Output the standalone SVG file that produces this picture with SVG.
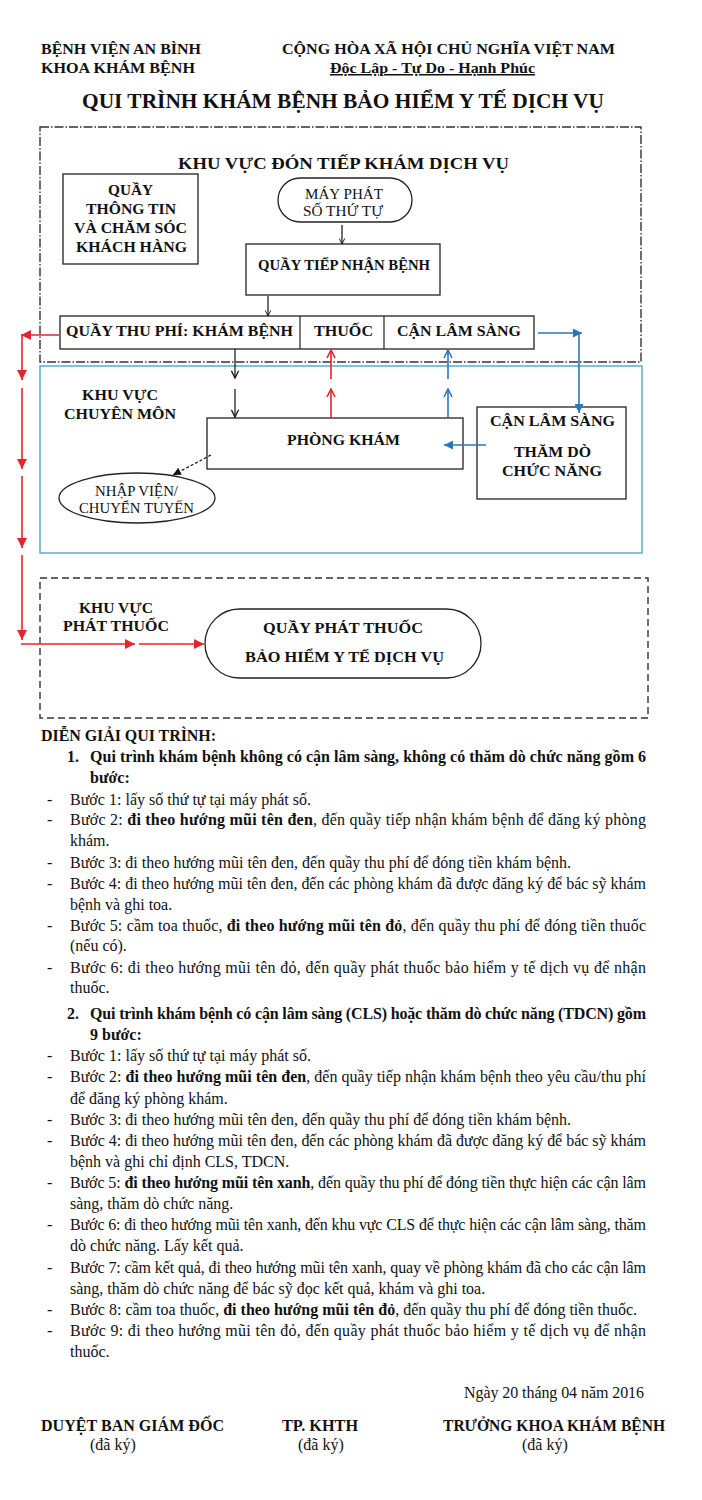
<svg xmlns="http://www.w3.org/2000/svg" width="702" height="1500" viewBox="0 0 702 1500">
<style>
text{font-family:"Liberation Serif","Times New Roman",serif;fill:#111;}
.h{font-size:15px;font-weight:bold;}
.t{font-size:21px;font-weight:bold;}
.nb{font-size:14px;font-weight:bold;}
.nr{font-size:14px;}
.b{font-size:16px;}
.bb{font-size:16px;font-weight:bold;}
.bx{fill:#fff;stroke:#222;stroke-width:1.3;}
.k{stroke:#111;stroke-width:1.2;fill:none;}
.r{stroke:#e3262d;stroke-width:1.6;fill:none;}
.u{stroke:#2e75b6;stroke-width:1.6;fill:none;}
</style>
<defs>
<marker id="oK" viewBox="0 0 10 10" refX="9" refY="5" markerWidth="9" markerHeight="9" markerUnits="userSpaceOnUse" orient="auto"><path d="M1,1 L9,5 L1,9" fill="none" stroke="#111" stroke-width="1.4"/></marker>
<marker id="oKs" viewBox="0 0 10 10" refX="9" refY="5" markerWidth="7" markerHeight="7" markerUnits="userSpaceOnUse" orient="auto"><path d="M1,1 L9,5 L1,9" fill="none" stroke="#111" stroke-width="1.3"/></marker>
<marker id="fK" viewBox="0 0 10 10" refX="10" refY="5" markerWidth="8" markerHeight="8" markerUnits="userSpaceOnUse" orient="auto"><path d="M0,0 L10,5 L0,10 z" fill="#111"/></marker>
<marker id="fR" viewBox="0 0 10 10" refX="10" refY="5" markerWidth="10" markerHeight="10" markerUnits="userSpaceOnUse" orient="auto"><path d="M0,0 L10,5 L0,10 z" fill="#e3262d"/></marker>
<marker id="oR" viewBox="0 0 10 10" refX="9" refY="5" markerWidth="10" markerHeight="10" markerUnits="userSpaceOnUse" orient="auto"><path d="M1,1 L9,5 L1,9" fill="none" stroke="#e3262d" stroke-width="1.6"/></marker>
<marker id="fU" viewBox="0 0 10 10" refX="10" refY="5" markerWidth="9" markerHeight="9" markerUnits="userSpaceOnUse" orient="auto"><path d="M0,0 L10,5 L0,10 z" fill="#2e75b6"/></marker>
<marker id="oU" viewBox="0 0 10 10" refX="9" refY="5" markerWidth="10" markerHeight="10" markerUnits="userSpaceOnUse" orient="auto"><path d="M1,1 L9,5 L1,9" fill="none" stroke="#2e75b6" stroke-width="1.6"/></marker>
</defs>
<rect width="702" height="1500" fill="#fff"/>

<g id="header">
<text class="h" x="41" y="54" textLength="160" lengthAdjust="spacingAndGlyphs">BỆNH VIỆN AN BÌNH</text>
<text class="h" x="41" y="73" textLength="154" lengthAdjust="spacingAndGlyphs">KHOA KHÁM BỆNH</text>
<text class="h" x="282" y="54" textLength="333" lengthAdjust="spacingAndGlyphs">CỘNG HÒA XÃ HỘI CHỦ NGHĨA VIỆT NAM</text>
<text class="h" x="330" y="73" textLength="205" lengthAdjust="spacingAndGlyphs" text-decoration="underline">Độc Lập - Tự Do - Hạnh Phúc</text>
<text class="t" x="82" y="108" textLength="522" lengthAdjust="spacingAndGlyphs">QUI TRÌNH KHÁM BỆNH BẢO HIỂM Y TẾ DỊCH VỤ</text>
</g>

<g id="zone-reception">
<rect x="40" y="127" width="601" height="235" fill="none" stroke="#333" stroke-width="1.4" stroke-dasharray="9 2 1.5 2"/>
<text x="178" y="169" style="font-size:17px;font-weight:bold" textLength="331" lengthAdjust="spacingAndGlyphs">KHU VỰC ĐÓN TIẾP KHÁM DỊCH VỤ</text>
</g>
<g id="zone-specialty">
<rect x="40" y="366" width="602" height="187" fill="none" stroke="#5aafc8" stroke-width="1.5"/>
<text class="nb" x="82" y="400" textLength="76" lengthAdjust="spacingAndGlyphs">KHU VỰC</text>
<text class="nb" x="64" y="419" textLength="112" lengthAdjust="spacingAndGlyphs">CHUYÊN MÔN</text>
</g>
<g id="zone-pharmacy">
<rect x="40" y="578" width="608" height="140" fill="none" stroke="#333" stroke-width="1.4" stroke-dasharray="7 4"/>
<text class="nb" x="79" y="613" textLength="74" lengthAdjust="spacingAndGlyphs">KHU VỰC</text>
<text class="nb" x="63" y="631" textLength="106" lengthAdjust="spacingAndGlyphs">PHÁT THUỐC</text>
</g>

<g id="node-info">
<rect class="bx" x="63" y="174" width="135" height="90"/>
<text class="nb" x="108" y="195" textLength="45" lengthAdjust="spacingAndGlyphs">QUẦY</text>
<text class="nb" x="86" y="214" textLength="90" lengthAdjust="spacingAndGlyphs">THÔNG TIN</text>
<text class="nb" x="74" y="233" textLength="113" lengthAdjust="spacingAndGlyphs">VÀ CHĂM SÓC</text>
<text class="nb" x="76" y="252" textLength="111" lengthAdjust="spacingAndGlyphs">KHÁCH HÀNG</text>
</g>
<g id="node-ticket">
<rect class="bx" x="278" y="178" width="134" height="44" rx="22"/>
<text class="nr" x="305" y="199" textLength="78" lengthAdjust="spacingAndGlyphs">MÁY PHÁT</text>
<text class="nr" x="303" y="216" textLength="80" lengthAdjust="spacingAndGlyphs">SỐ THỨ TỰ</text>
</g>
<g id="node-reception">
<rect class="bx" x="246" y="244" width="194" height="51"/>
<text class="nb" x="258" y="270" textLength="172" lengthAdjust="spacingAndGlyphs">QUẦY TIẾP NHẬN BỆNH</text>
</g>
<g id="node-cashier">
<rect class="bx" x="60" y="316" width="474" height="33"/>
<line x1="300" y1="316" x2="300" y2="349" stroke="#222" stroke-width="1.2"/>
<line x1="384" y1="316" x2="384" y2="349" stroke="#222" stroke-width="1.2"/>
<text class="nb" x="66" y="336" textLength="227" lengthAdjust="spacingAndGlyphs">QUẦY THU PHÍ: KHÁM BỆNH</text>
<text class="nb" x="314" y="336" textLength="59" lengthAdjust="spacingAndGlyphs">THUỐC</text>
<text class="nb" x="397" y="336" textLength="124" lengthAdjust="spacingAndGlyphs">CẬN LÂM SÀNG</text>
</g>
<g id="node-clinic">
<rect class="bx" x="207" y="418" width="256" height="51"/>
<text class="nb" x="287" y="445" textLength="113" lengthAdjust="spacingAndGlyphs">PHÒNG KHÁM</text>
</g>
<g id="node-cls">
<rect class="bx" x="477" y="407" width="149" height="92"/>
<text class="nb" x="490" y="426" textLength="125" lengthAdjust="spacingAndGlyphs">CẬN LÂM SÀNG</text>
<text class="nb" x="514" y="457" textLength="77" lengthAdjust="spacingAndGlyphs">THĂM DÒ</text>
<text class="nb" x="502" y="476" textLength="100" lengthAdjust="spacingAndGlyphs">CHỨC NĂNG</text>
</g>
<g id="node-admit">
<ellipse class="bx" cx="137" cy="498" rx="78" ry="25"/>
<text class="nr" x="95" y="496" textLength="83" lengthAdjust="spacingAndGlyphs">NHẬP VIỆN/</text>
<text class="nr" x="79" y="513" textLength="115" lengthAdjust="spacingAndGlyphs">CHUYỂN TUYẾN</text>
</g>
<g id="node-pharmacy">
<rect class="bx" x="205" y="609" width="276" height="69" rx="34.5"/>
<text class="nb" x="263" y="633" textLength="160" lengthAdjust="spacingAndGlyphs">QUẦY PHÁT THUỐC</text>
<text class="nb" x="245" y="662" textLength="199" lengthAdjust="spacingAndGlyphs">BẢO HIỂM Y TẾ DỊCH VỤ</text>
</g>

<g id="connectors">
<line class="k" x1="342" y1="225" x2="342" y2="244" marker-end="url(#oKs)"/>
<line class="k" x1="268" y1="296" x2="268" y2="316" marker-end="url(#oKs)"/>
<line class="k" x1="235" y1="349" x2="235" y2="378" marker-end="url(#oK)"/>
<line class="k" x1="235" y1="389" x2="235" y2="417" marker-end="url(#oK)"/>
<line class="r" x1="331" y1="418" x2="331" y2="389" marker-end="url(#oR)"/>
<line class="r" x1="331" y1="379" x2="331" y2="350" marker-end="url(#oR)"/>
<line class="u" x1="448" y1="418" x2="448" y2="389" marker-end="url(#oU)"/>
<line class="u" x1="448" y1="379" x2="448" y2="350" marker-end="url(#oU)"/>
<polyline class="u" points="538,333 582,333" marker-end="url(#fU)"/>
<line class="u" x1="579" y1="333" x2="579" y2="413" marker-end="url(#fU)"/>
<line class="u" x1="486" y1="445" x2="444" y2="445" marker-end="url(#fU)"/>
<line x1="211" y1="455" x2="173" y2="475" stroke="#111" stroke-width="1.2" stroke-dasharray="3 2" marker-end="url(#fK)"/>
<line class="r" x1="59" y1="335" x2="21" y2="335" marker-end="url(#fR)"/>
<line class="r" x1="22" y1="335" x2="22" y2="380" marker-end="url(#fR)"/>
<line class="r" x1="22" y1="388" x2="22" y2="469" marker-end="url(#fR)"/>
<line class="r" x1="22" y1="476" x2="22" y2="548" marker-end="url(#fR)"/>
<line class="r" x1="22" y1="555" x2="22" y2="640" marker-end="url(#fR)"/>
<line class="r" x1="21" y1="644" x2="135" y2="644" marker-end="url(#fR)"/>
<line class="r" x1="139" y1="644" x2="204" y2="644" marker-end="url(#fR)"/>
</g>

<g id="explanation">
<text class="bb" x="41" y="741" textLength="175" lengthAdjust="spacing">DIỄN GIẢI QUI TRÌNH:</text>
<text class="bb" x="67" y="762">1.</text>
<text class="bb" x="90" y="762" textLength="556" lengthAdjust="spacing">Qui trình khám bệnh không có cận lâm sàng, không có thăm dò chức năng gồm 6</text>
<text class="bb" x="90" y="783">bước:</text>
<text class="b" x="47" y="805">-</text><text class="b" x="70" y="805" textLength="241" lengthAdjust="spacing">Bước 1: lấy số thứ tự tại máy phát số.</text>
<text class="b" x="47" y="825">-</text><text class="b" x="70" y="825" textLength="576" lengthAdjust="spacing">Bước 2: <tspan font-weight="bold">đi theo hướng mũi tên đen</tspan>, đến quầy tiếp nhận khám bệnh để đăng ký phòng</text>
<text class="b" x="70" y="846">khám.</text>
<text class="b" x="47" y="868">-</text><text class="b" x="70" y="868" textLength="501" lengthAdjust="spacing">Bước 3: đi theo hướng mũi tên đen, đến quầy thu phí để đóng tiền khám bệnh.</text>
<text class="b" x="47" y="889">-</text><text class="b" x="70" y="889" textLength="576" lengthAdjust="spacing">Bước 4: đi theo hướng mũi tên đen, đến các phòng khám đã được đăng ký để bác sỹ khám</text>
<text class="b" x="70" y="910">bệnh và ghi toa.</text>
<text class="b" x="47" y="931">-</text><text class="b" x="70" y="931" textLength="576" lengthAdjust="spacing">Bước 5: cầm toa thuốc, <tspan font-weight="bold">đi theo hướng mũi tên đỏ</tspan>, đến quầy thu phí để đóng tiền thuốc</text>
<text class="b" x="70" y="951">(nếu có).</text>
<text class="b" x="47" y="973">-</text><text class="b" x="70" y="973" textLength="576" lengthAdjust="spacing">Bước 6: đi theo hướng mũi tên đỏ, đến quầy phát thuốc bảo hiểm y tế dịch vụ để nhận</text>
<text class="b" x="70" y="993">thuốc.</text>

<text class="bb" x="67" y="1019">2.</text>
<text class="bb" x="90" y="1019" textLength="556" lengthAdjust="spacing">Qui trình khám bệnh có cận lâm sàng (CLS) hoặc thăm dò chức năng (TDCN) gồm</text>
<text class="bb" x="90" y="1040">9 bước:</text>
<text class="b" x="47" y="1061">-</text><text class="b" x="70" y="1061" textLength="241" lengthAdjust="spacing">Bước 1: lấy số thứ tự tại máy phát số.</text>
<text class="b" x="47" y="1082">-</text><text class="b" x="70" y="1082" textLength="576" lengthAdjust="spacing">Bước 2: <tspan font-weight="bold">đi theo hướng mũi tên đen</tspan>, đến quầy tiếp nhận khám bệnh theo yêu cầu/thu phí</text>
<text class="b" x="70" y="1104">để đăng ký phòng khám.</text>
<text class="b" x="47" y="1125">-</text><text class="b" x="70" y="1125" textLength="501" lengthAdjust="spacing">Bước 3: đi theo hướng mũi tên đen, đến quầy thu phí để đóng tiền khám bệnh.</text>
<text class="b" x="47" y="1146">-</text><text class="b" x="70" y="1146" textLength="576" lengthAdjust="spacing">Bước 4: đi theo hướng mũi tên đen, đến các phòng khám đã được đăng ký để bác sỹ khám</text>
<text class="b" x="70" y="1167">bệnh và ghi chỉ định CLS, TDCN.</text>
<text class="b" x="47" y="1188">-</text><text class="b" x="70" y="1188" textLength="576" lengthAdjust="spacing">Bước 5: <tspan font-weight="bold">đi theo hướng mũi tên xanh</tspan>, đến quầy thu phí để đóng tiền thực hiện các cận lâm</text>
<text class="b" x="70" y="1209">sàng, thăm dò chức năng.</text>
<text class="b" x="47" y="1230">-</text><text class="b" x="70" y="1230" textLength="576" lengthAdjust="spacing">Bước 6: đi theo hướng mũi tên xanh, đến khu vực CLS để thực hiện các cận lâm sàng, thăm</text>
<text class="b" x="70" y="1251">dò chức năng. Lấy kết quả.</text>
<text class="b" x="47" y="1273">-</text><text class="b" x="70" y="1273" textLength="576" lengthAdjust="spacing">Bước 7: cầm kết quả, đi theo hướng mũi tên xanh, quay về phòng khám đã cho các cận lâm</text>
<text class="b" x="70" y="1294">sàng, thăm dò chức năng để bác sỹ đọc kết quả, khám và ghi toa.</text>
<text class="b" x="47" y="1315">-</text><text class="b" x="70" y="1315" textLength="567" lengthAdjust="spacing">Bước 8: cầm toa thuốc, <tspan font-weight="bold">đi theo hướng mũi tên đỏ</tspan>, đến quầy thu phí để đóng tiền thuốc.</text>
<text class="b" x="47" y="1336">-</text><text class="b" x="70" y="1336" textLength="576" lengthAdjust="spacing">Bước 9: đi theo hướng mũi tên đỏ, đến quầy phát thuốc bảo hiểm y tế dịch vụ để nhận</text>
<text class="b" x="70" y="1357">thuốc.</text>
</g>

<g id="signatures">
<text class="b" x="464" y="1398" textLength="180" lengthAdjust="spacing">Ngày 20 tháng 04 năm 2016</text>
<text class="bb" x="41" y="1431" textLength="183" lengthAdjust="spacingAndGlyphs">DUYỆT BAN GIÁM ĐỐC</text>
<text class="b" x="90" y="1450">(đã ký)</text>
<text class="bb" x="282" y="1431" textLength="76" lengthAdjust="spacingAndGlyphs">TP. KHTH</text>
<text class="b" x="298" y="1450">(đã ký)</text>
<text class="bb" x="443" y="1431" textLength="222" lengthAdjust="spacingAndGlyphs">TRƯỞNG KHOA KHÁM BỆNH</text>
<text class="b" x="522" y="1450">(đã ký)</text>
</g>
</svg>
